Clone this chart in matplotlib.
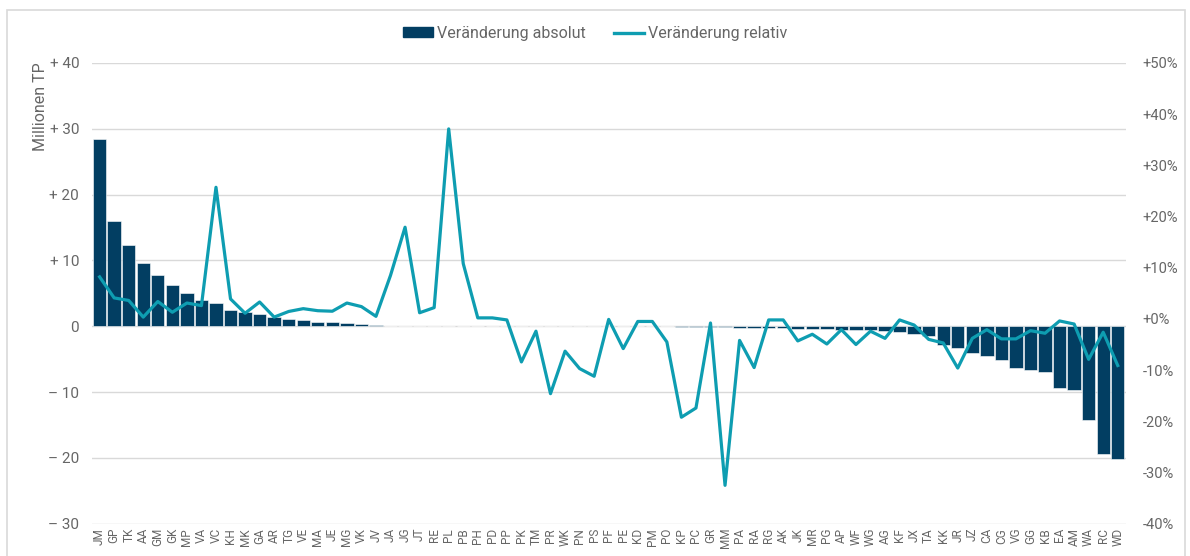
import matplotlib.pyplot as plt
from matplotlib.patches import Patch, Rectangle
from matplotlib.lines import Line2D

plt.rcParams['font.family'] = ['Roboto', 'DejaVu Sans']

regionen = ["JM", "GP", "TK", "AA", "GM", "GK", "MP", "VA", "VC", "KH", "MK", "GA", "AR", "TG", "VE",
            "MA", "JE", "MG", "VK", "JV", "JA", "JG", "JT", "RE", "PL", "PB", "PH", "PD", "PP", "PK",
            "TM", "PR", "WK", "PN", "PS", "PF", "PE", "KD", "PM", "PO", "KP", "PC", "GR", "MM", "PA",
            "RA", "RG", "AK", "JK", "MR", "PG", "AP", "WF", "WG", "AG", "KF", "JX", "TA", "KK", "JR",
            "JZ", "CA", "CG", "VG", "GG", "KB", "EA", "AM", "WA", "RC", "WD"]

# Veränderung absolut (Millionen TP)
absolut = [28.4, 16.0, 12.3, 9.6, 7.8, 6.3, 5.0, 4.0, 3.55, 2.5, 2.1, 1.8, 1.4, 1.1, 0.87,
           0.7, 0.6, 0.45, 0.3, 0.15, 0, 0, 0, 0, 0, 0, 0, 0, 0, 0,
           0, 0, 0, 0, 0, 0, 0, 0, 0, 0, -0.1, -0.1, -0.15, -0.15, -0.2,
           -0.2, -0.25, -0.3, -0.35, -0.4, -0.45, -0.5, -0.55, -0.6, -0.7, -0.95, -1.25, -1.45, -2.8, -3.3,
           -4.1, -4.5, -5.2, -6.3, -6.6, -6.9, -9.4, -9.7, -14.2, -19.4, -20.2]

# Veränderung relativ (%)
relativ = [8.2, 4.1, 3.6, 0.35, 3.4, 1.3, 3.1, 2.6, 25.7, 3.9, 1.1, 3.3, 0.35, 1.45, 2.0,
           1.6, 1.5, 3.1, 2.4, 0.5, 8.5, 17.9, 1.2, 2.2, 37.1, 10.8, 0.2, 0.2, -0.2, -8.4,
           -2.4, -14.6, -6.3, -9.7, -11.2, -0.1, -5.8, -0.5, -0.5, -4.5, -19.2, -17.4, -0.8, -32.5, -4.2,
           -9.5, -0.2, -0.2, -4.3, -3.0, -4.9, -2.1, -5.0, -2.4, -3.8, -0.2, -1.2, -4.0, -4.7, -9.6,
           -3.8, -2.1, -3.9, -3.9, -2.3, -2.8, -0.4, -1.0, -7.9, -2.6, -9.1]

links_ticks = [-30, -20, -10, 0, 10, 20, 30, 40]
links_labels = ["– 30", "– 20", "– 10", "0", "+ 10", "+ 20", "+ 30", "+ 40"]
rechts_ticks = [-40, -30, -20, -10, 0, 10, 20, 30, 40, 50]
rechts_labels = ["-40%", "-30%", "-20%", "-10%", "+0%", "+10%", "+20%", "+30%", "+40%", "+50%"]

navy = "#023e62"
teal = "#0e9db1"
grau = "#666666"

fig = plt.figure(figsize=(11.9, 5.56), dpi=100)
fig.patches.append(Rectangle((0.006, -0.05), 0.99, 1.032, transform=fig.transFigure,
                             fill=False, edgecolor="#d9d9d9", linewidth=1.2))

ax = fig.add_axes([0.077, 0.058, 0.869, 0.829])
x = range(len(regionen))
ax.bar(x, absolut, width=0.92, color=navy, edgecolor="white", linewidth=0.4, zorder=2)
ax.set_ylim(-30, 40)
ax.set_xlim(-0.55, len(regionen) - 0.45)
ax.set_yticks(links_ticks)
ax.set_yticklabels(links_labels)
ax.grid(axis="y", color="#d9d9d9", linewidth=1.0, zorder=0)
ax.set_axisbelow(True)
ax.set_xticks(list(x))
ax.set_xticklabels(regionen, rotation=90, fontsize=8.5, color=grau)
ax.tick_params(axis="both", length=0, colors=grau)
ax.tick_params(axis="y", labelsize=11, pad=9)
ax.tick_params(axis="x", pad=3)
for s in ax.spines.values():
    s.set_visible(False)
ax.set_ylabel("Millionen TP", color=grau, fontsize=11.5, loc="top", labelpad=0)

ax2 = ax.twinx()
ax2.plot(x, relativ, color=teal, linewidth=2.3, zorder=3)
ax2.set_ylim(-40, 50)
ax2.set_yticks(rechts_ticks)
ax2.set_yticklabels(rechts_labels)
ax2.tick_params(axis="y", length=0, colors=grau, labelsize=10.5, pad=12)
for s in ax2.spines.values():
    s.set_visible(False)

handles = [Patch(facecolor=navy, edgecolor=navy), Line2D([0], [0], color=teal, linewidth=2.4)]
fig.legend(handles, ["Veränderung absolut", "Veränderung relativ"], loc="center",
           bbox_to_anchor=(0.5, 0.94), ncol=2, frameon=False, fontsize=11.5,
           labelcolor=grau, handlelength=1.9, handleheight=0.6, handletextpad=0.2,
           columnspacing=1.8)

fig.savefig("out.png", dpi=100)
